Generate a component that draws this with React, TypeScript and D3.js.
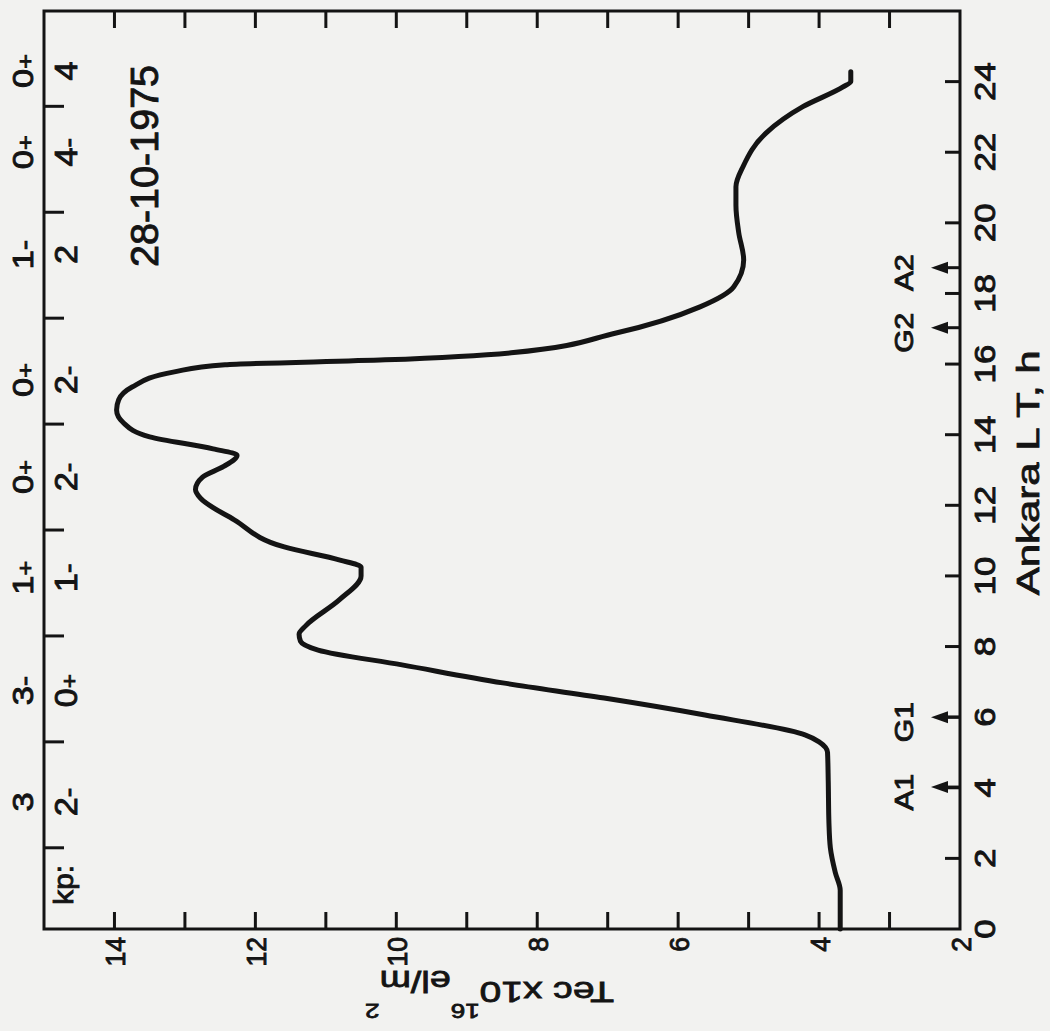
import React from "react";
import * as d3 from "d3";

// TEC curve (Ankara LT hours, TEC x10^16 el/m^2)
const ltHours = [0, 1.1, 1.6, 2.3, 3.0, 4.2, 5.0, 5.3, 5.5, 6.06, 6.54, 6.97, 7.48, 7.9, 8.15, 8.35, 8.6, 9.32, 10.0, 10.25, 10.45, 10.82, 11.59, 12.2, 12.45, 12.8, 13.1, 13.42, 13.6, 13.94, 14.33, 14.7, 14.99, 15.35, 15.78, 15.98, 16.12, 16.32, 16.88, 17.62, 18.19, 18.95, 19.72, 20.5, 21.02, 21.59, 22.55, 23.29, 23.85, 24.0, 24.28];
const tecValues = [3.70, 3.70, 3.77, 3.84, 3.86, 3.87, 3.88, 4.0, 4.2, 5.62, 7.05, 8.49, 9.92, 11.11, 11.36, 11.38, 11.28, 10.81, 10.50, 10.50, 10.8, 11.59, 12.30, 12.78, 12.85, 12.75, 12.45, 12.26, 12.6, 13.5, 13.87, 13.97, 13.94, 13.75, 13.15, 12.43, 10.16, 8.37, 6.88, 5.69, 5.21, 5.07, 5.14, 5.18, 5.18, 5.08, 4.75, 4.23, 3.66, 3.55, 3.55];

const ltTicks = [2, 4, 6, 8, 10, 12, 14, 16, 18, 20, 22, 24];
const ltLabels = [0, 2, 4, 6, 8, 10, 12, 14, 16, 18, 20, 22, 24];
const tecTicks = [3, 4, 5, 6, 7, 8, 9, 10, 11, 12, 13, 14];
const tecLabels = [2, 4, 6, 8, 10, 12, 14];

// kp 3-hour interval boundaries (LT) and labels
const kpBoundaries = [2.3, 5.3, 8.3, 11.3, 14.3, 17.3, 20.3, 23.3];
const kpLabelLT = [1.25, 3.6, 6.75, 9.95, 12.8, 15.55, 19.1, 22.0, 24.3];
const kpOuter = ["", "3", "3-", "1+", "0+", "0+", "1-", "0+", "0+"];
const kpInner = ["kp:", "2-", "0+", "1-", "2-", "2-", "2", "4-", "4"];

// event markers
const eventNames = ["A1", "G1", "G2", "A2"];
const eventLT = [4.02, 6.0, 17.03, 18.73];

const dateLabel = "28-10-1975";
const xTitle = "Ankara L T, h";

const W = 918;
const H = 916;
const OX = 44;
const OY = 929;
const INK = "#141414";

function Txt({ u, v, size, anchor = "middle", sx = 1.2, children }: any) {
  return (
    <text
      transform={`translate(${u},${v}) scale(${sx},1)`}
      fontSize={size}
      textAnchor={anchor}
      fill={INK}
      stroke={INK}
      strokeWidth={0.9}
    >
      {children}
    </text>
  );
}

function KpText({ label }: { label: string }) {
  if (label === "kp:") return <>{label}</>;
  const d = label.slice(0, 1);
  const s = label.slice(1);
  return (
    <>
      {d}
      {s && <tspan fontSize={s === "+" ? 22 : 26}>{s}</tspan>}
    </>
  );
}

export default function App() {
  const x = d3.scaleLinear().domain([0, 26]).range([0, W]);
  const y = d3.scaleLinear().domain([2, 15]).range([H, 0]);
  const line = d3
    .line<number>()
    .x((_, i) => x(ltHours[i]))
    .y((d) => y(d))
    .curve(d3.curveMonotoneX);
  const path = line(tecValues) || "";

  return (
    <svg
      width={1050}
      height={1031}
      style={{ position: "absolute", left: 0, top: 0 }}
      fontFamily="'Liberation Sans', Arial, sans-serif"
    >
      <rect width={1050} height={1031} fill="#f2f2f0" />
      <g transform={`translate(${OX},${OY}) rotate(-90)`}>
        {/* frame */}
        <rect x={0} y={0} width={W} height={H} fill="none" stroke={INK} strokeWidth={3} />

        {/* LT ticks (bottom in original orientation) */}
        {ltTicks.map((t) => (
          <line key={"lt" + t} x1={x(t)} x2={x(t)} y1={H} y2={H - 15} stroke={INK} strokeWidth={3} />
        ))}
        {ltLabels.map((t) => (
          <Txt key={"ltl" + t} u={x(t)} v={951} size={29}>
            {t}
          </Txt>
        ))}

        {/* kp ticks (top) */}
        {kpBoundaries.map((t) => (
          <line key={"kp" + t} x1={x(t)} x2={x(t)} y1={0} y2={20} stroke={INK} strokeWidth={3} />
        ))}
        {kpLabelLT.map((t, i) => (
          <React.Fragment key={"kpl" + i}>
            {kpOuter[i] && (
              <Txt u={x(t)} v={-11} size={30} sx={1.15}>
                <KpText label={kpOuter[i]} />
              </Txt>
            )}
            <Txt u={x(t)} v={i === 0 ? 29 : 33} size={i === 0 ? 27 : 31} sx={1.1}>
              <KpText label={kpInner[i]} />
            </Txt>
          </React.Fragment>
        ))}

        {/* TEC ticks (left and right) */}
        {tecTicks.map((t) => (
          <React.Fragment key={"tec" + t}>
            <line x1={0} x2={17} y1={y(t)} y2={y(t)} stroke={INK} strokeWidth={3} />
            <line x1={W} x2={W - 17} y1={y(t)} y2={y(t)} stroke={INK} strokeWidth={3} />
          </React.Fragment>
        ))}
        {tecLabels.map((t) => (
          <Txt key={"tecl" + t} u={-8} v={y(t) + 11} size={28} anchor="end" sx={0.95}>
            {t}
          </Txt>
        ))}

        {/* event arrows */}
        {eventLT.map((t, i) => (
          <g key={"ev" + i}>
            <line x1={x(t)} x2={x(t)} y1={H} y2={H - 18} stroke={INK} strokeWidth={3} />
            <polygon
              points={`${x(t)},${H - 29} ${x(t) - 6},${H - 12} ${x(t) + 6},${H - 12}`}
              fill={INK}
            />
            <Txt u={x(t) - 5} v={869} size={25} sx={1.2}>
              {eventNames[i]}
            </Txt>
          </g>
        ))}

        {/* date */}
        <Txt u={x(18.75)} v={114} size={38} anchor="start" sx={1.04}>
          {dateLabel}
        </Txt>

        {/* x title */}
        <text
          x={x(9.45)}
          y={995}
          fontSize={31}
          textLength={245}
          lengthAdjust="spacingAndGlyphs"
          fill={INK}
          stroke={INK}
          strokeWidth={0.8}
        >
          {xTitle}
        </text>

        {/* TEC curve */}
        <path d={path} fill="none" stroke={INK} strokeWidth={5} strokeLinejoin="round" strokeLinecap="round" />
      </g>

      {/* y title, upside down */}
      <text
        transform="translate(614,982) rotate(180) scale(1.3,1)"
        fontSize={30}
        fill={INK}
        stroke={INK}
        strokeWidth={0.8}
      >
        {"Tec x10"}
        <tspan dy={-22} fontSize={20}>16</tspan>
        <tspan dy={33} fontSize={29}>el/m</tspan>
        <tspan dy={-33} fontSize={20}>2</tspan>
      </text>
    </svg>
  );
}
